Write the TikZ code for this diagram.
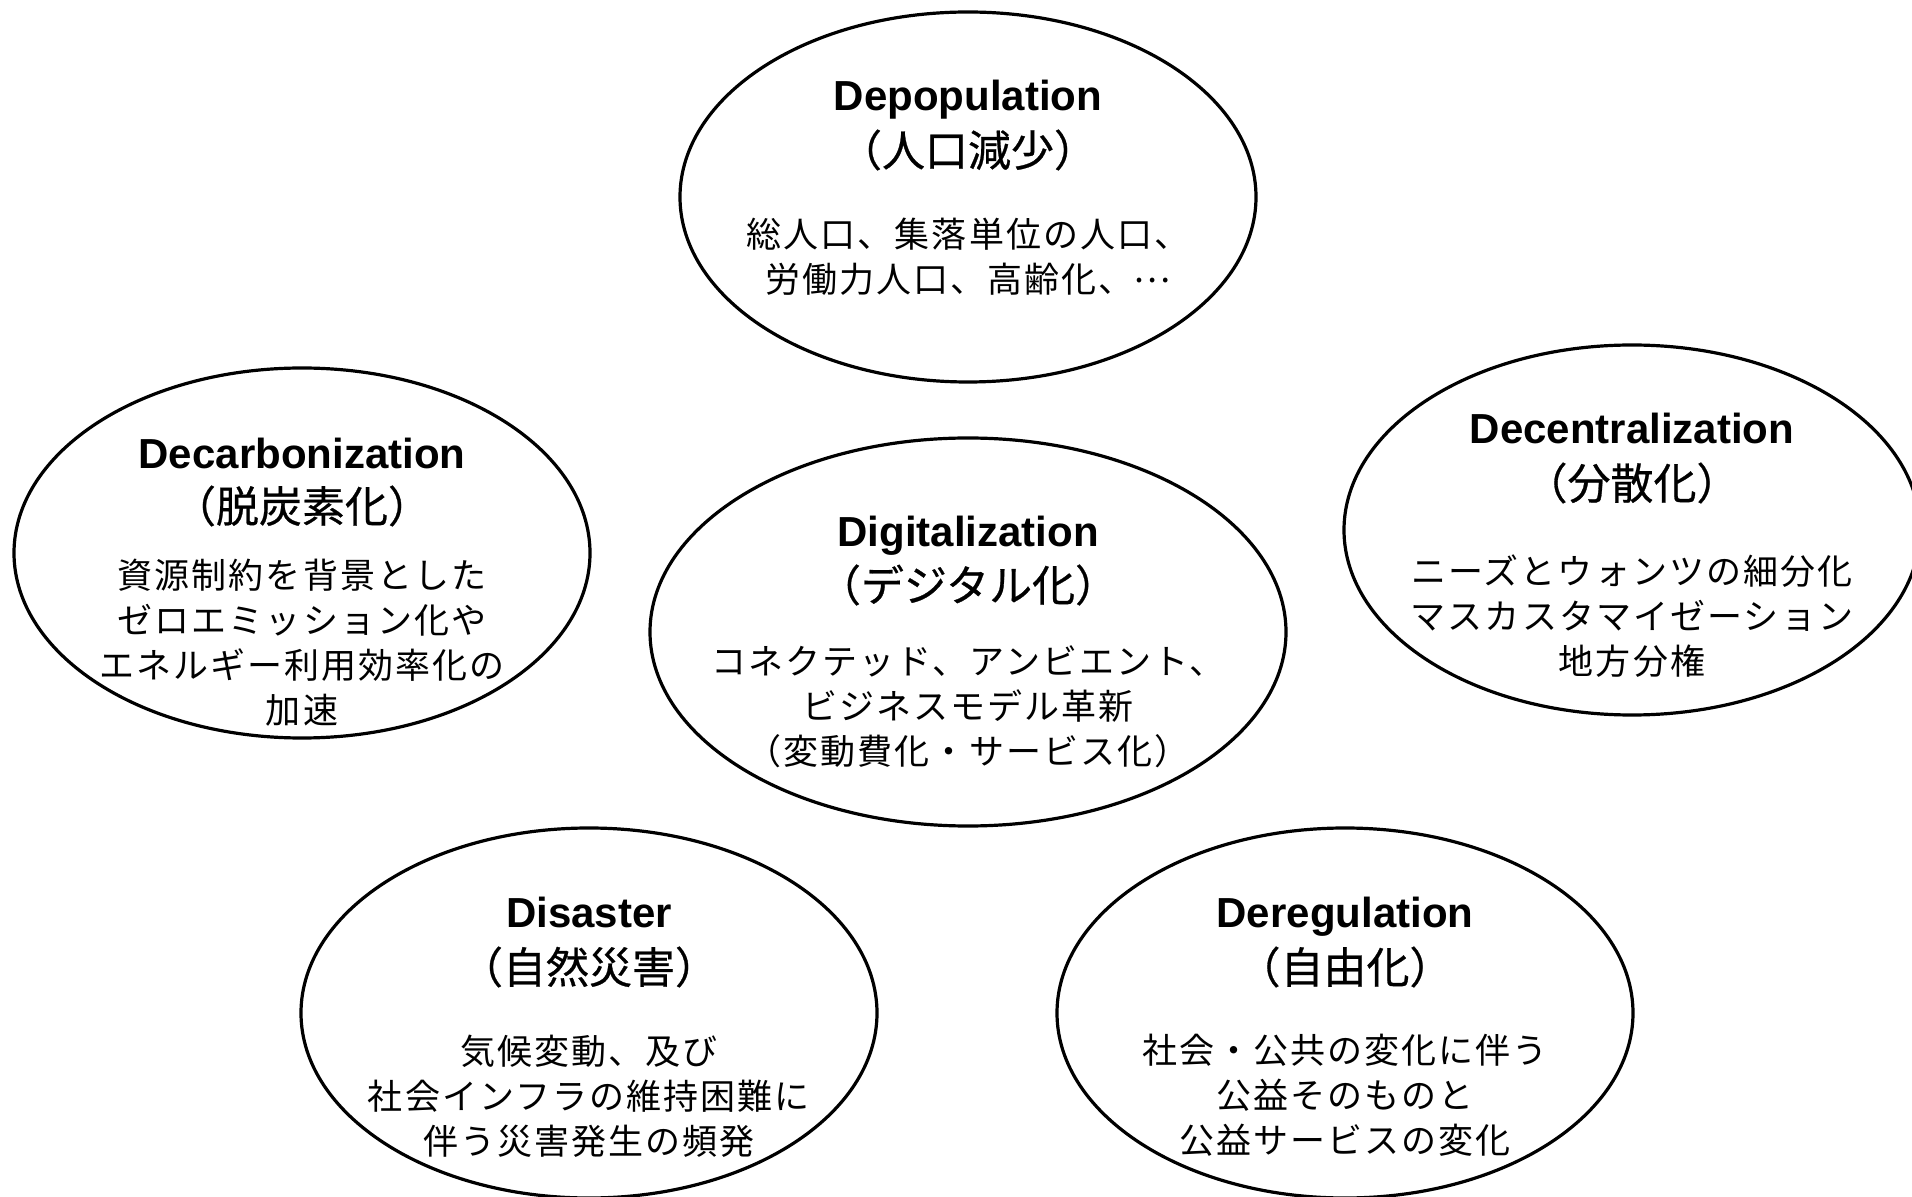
\documentclass[tikz,border=0pt]{standalone}
\usepackage{fontspec}
\usetikzlibrary{shapes.geometric}
\newfontfamily\enfont{Liberation Sans}
\newfontfamily\jpfont[FakeBold=0.6]{Noto Sans CJK JP}
\newfontfamily\jpbody[LetterSpace=6]{Noto Sans CJK JP}
\tikzset{
  oval/.style={draw, line width=1.6pt, ellipse, inner sep=0pt, minimum width=576*0.5pt, minimum height=370*0.5pt},
  bigoval/.style={oval, minimum width=636*0.5pt, minimum height=388*0.5pt},
  entitle/.style={font=\enfont\bfseries\fontsize{21}{25}\selectfont, inner sep=0pt, anchor=base},
  jptitle/.style={font=\jpfont\fontsize{21.5}{26}\selectfont, inner sep=0pt},
  body/.style={font=\jpbody\fontsize{17.5}{22.5}\selectfont, align=center, inner sep=0pt}
}
\begin{document}
\begin{tikzpicture}[x=0.5pt, y=-0.5pt]
\useasboundingbox (0,0) rectangle (1912,1197);
\clip (0,0) rectangle (1912,1197);
% ellipses
\node[oval] (depE) at (968,197) {};
\node[oval] (decE) at (302,553) {};
\node[bigoval] (digE) at (968,632) {};
\node[oval] (cenE) at (1632,530) {};
\node[oval] (disE) at (589,1013) {};
\node[oval] (regE) at (1345,1013) {};
% Depopulation
\node[entitle] (depT) at (968,111) {Depopulation};
\node[jptitle] (depJ) at (968,150) {（人口減少）};
\node[body] (depB) at (968,257) {総人口、集落単位の人口、\\労働力人口、高齢化、\raisebox{0.3em}{…}};
% Decarbonization
\node[entitle] (decT) at (302,469) {Decarbonization};
\node[jptitle] (decJ) at (302,506) {（脱炭素化）};
\node[body] (decB) at (302,643) {資源制約を背景とした\\ゼロエミッション化や\\エネルギー利用効率化の\\加速};
% Digitalization
\node[entitle] (digT) at (968,547) {Digitalization};
\node[jptitle] (digJ) at (968,585) {（デジタル化）};
\node[body] (digB) at (968,707) {コネクテッド、アンビエント、\\ビジネスモデル革新\\（変動費化・サービス化）};
% Decentralization
\node[entitle] (cenT) at (1632,444) {Decentralization};
\node[jptitle] (cenJ) at (1632,483) {（分散化）};
\node[body] (cenB) at (1632,616) {ニーズとウォンツの細分化\\マスカスタマイゼーション\\地方分権};
% Disaster
\node[entitle] (disT) at (589,927) {Disaster};
\node[jptitle] (disJ) at (589,967) {（自然災害）};
\node[body] (disB) at (589,1096) {気候変動、及び\\社会インフラの維持困難に\\伴う災害発生の頻発};
% Deregulation
\node[entitle] (regT) at (1345,927) {Deregulation};
\node[jptitle] (regJ) at (1345,967) {（自由化）};
\node[body] (regB) at (1345,1095) {社会・公共の変化に伴う\\公益そのものと\\公益サービスの変化};
\end{tikzpicture}
\end{document}
